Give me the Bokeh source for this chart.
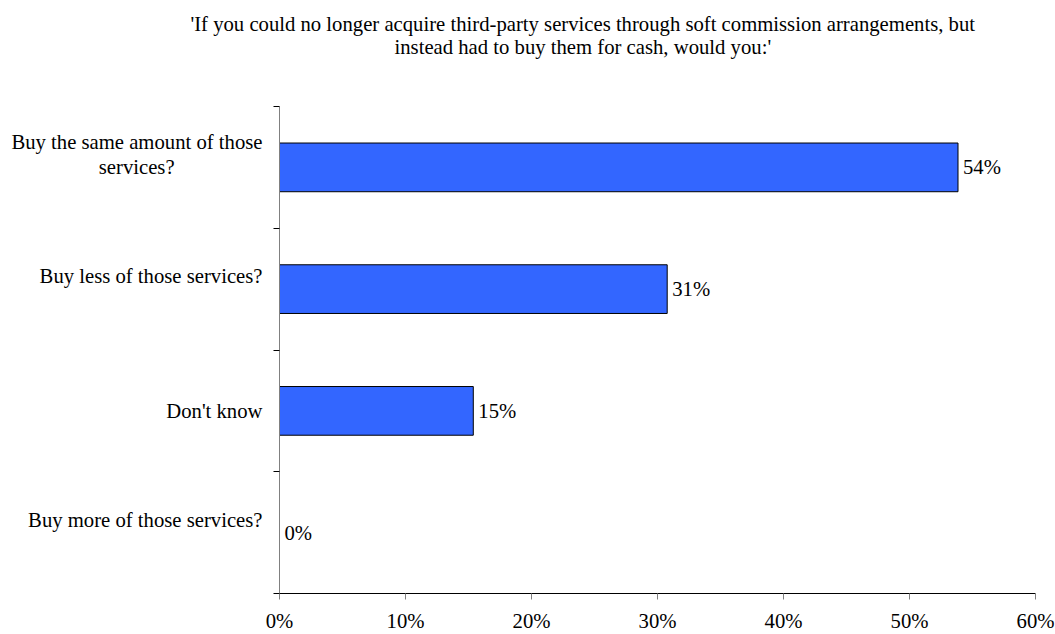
from bokeh.plotting import figure
from bokeh.models import Range1d, FixedTicker, NumeralTickFormatter, ColumnDataSource, LinearAxis, Title
from bokeh.core.properties import value
from bokeh.embed import file_html
from bokeh.resources import INLINE

# ---- data ----
categories = ["Buy the same amount of those\nservices?",
              "Buy less of those services?",
              "Don't know",
              "Buy more of those services?"]
shares = [0.5385, 0.3077, 0.1538, 0.0]
x_ticks = [0.0, 0.1, 0.2, 0.3, 0.4, 0.5, 0.6]
title_lines = ["'If you could no longer acquire third-party services through soft commission arrangements, but",
               "instead had to buy them for cash, would you:'"]

FONT = "Liberation Serif"
FS = "20.7px"
NB = "\u00a0"
W, H = 1055, 634
L, R, T, B = 279, 1035, 106, 594
n = len(categories)

# label layout (Excel-like placement of wrapped / single labels)
def axis_label(c):
    if c == "Don't know":
        return c
    parts = c.split("\n")
    if len(parts) == 2:
        return parts[0] + "\n" + parts[1] + NB * 17 + "\n" + NB
    return c + "\n" + NB

p = figure(width=W, height=H, output_backend="svg", toolbar_location=None,
           x_range=Range1d(0, 0.6), y_range=Range1d(n, 0), y_axis_location=None,
           min_border_left=L, min_border_right=W - R, min_border_top=T, min_border_bottom=H - B)
p.outline_line_color = None
p.xgrid.visible = False
p.ygrid.visible = False
p.background_fill_color = "white"
p.border_fill_color = "white"

# title: two centred lines (blank lines below line 2 keep the gap to the plot)
t2 = Title(text=title_lines[1] + "\n" + NB + "\n" + NB, align="left", offset=394 - L,
           text_font=FONT, text_font_size=FS, text_line_height=1.1,
           text_font_style="normal", text_color="black", standoff=0)
p.add_layout(t2, "above")
p.title.text = title_lines[0]
p.title.align = "left"
p.title.offset = 190 - L
p.title.text_font = FONT
p.title.text_font_size = FS
p.title.text_font_style = "normal"
p.title.text_color = "black"
p.title.standoff = 0

ys = [i + 0.5 for i in range(n)]
src = ColumnDataSource(dict(y=ys, right=shares,
                            lab=[f"{v * 100:.0f}%" for v in shares]))
p.hbar(y="y", left=0, right="right", height=0.4, source=src,
       fill_color="#3366FF", line_color="black", line_width=1)
p.text(x="right", y="y", text="lab", source=src, x_offset=5,
       text_baseline="middle", text_align="left",
       text_font=value(FONT), text_font_size=FS, text_color="black")

# x axis
xa = p.xaxis[0]
xa.ticker = FixedTicker(ticks=x_ticks)
xa.formatter = NumeralTickFormatter(format="0%")
xa.axis_line_color = "black"
xa.major_tick_line_color = "#808080"
xa.major_tick_in = 0
xa.major_tick_out = 6
xa.minor_tick_line_color = None
xa.major_label_standoff = 10
xa.major_label_text_font = FONT
xa.major_label_text_font_size = FS
xa.major_label_text_color = "black"

# y axis: labels at category centres, tick marks at category boundaries (minor ticks)
ya = LinearAxis(ticker=FixedTicker(ticks=ys, minor_ticks=list(range(n + 1))),
                major_label_overrides={y: axis_label(c) for y, c in zip(ys, categories)})
ya.axis_line_color = "#808080"
ya.major_tick_line_color = None
ya.major_tick_in = 0
ya.major_tick_out = 0
ya.minor_tick_line_color = "black"
ya.minor_tick_in = 0
ya.minor_tick_out = 6
ya.major_label_standoff = 11
ya.major_label_text_font = FONT
ya.major_label_text_font_size = FS
ya.major_label_text_color = "black"
ya.major_label_text_line_height = 1.16
p.add_layout(ya, "left")

open("out.html", "w").write(file_html(p, INLINE))
